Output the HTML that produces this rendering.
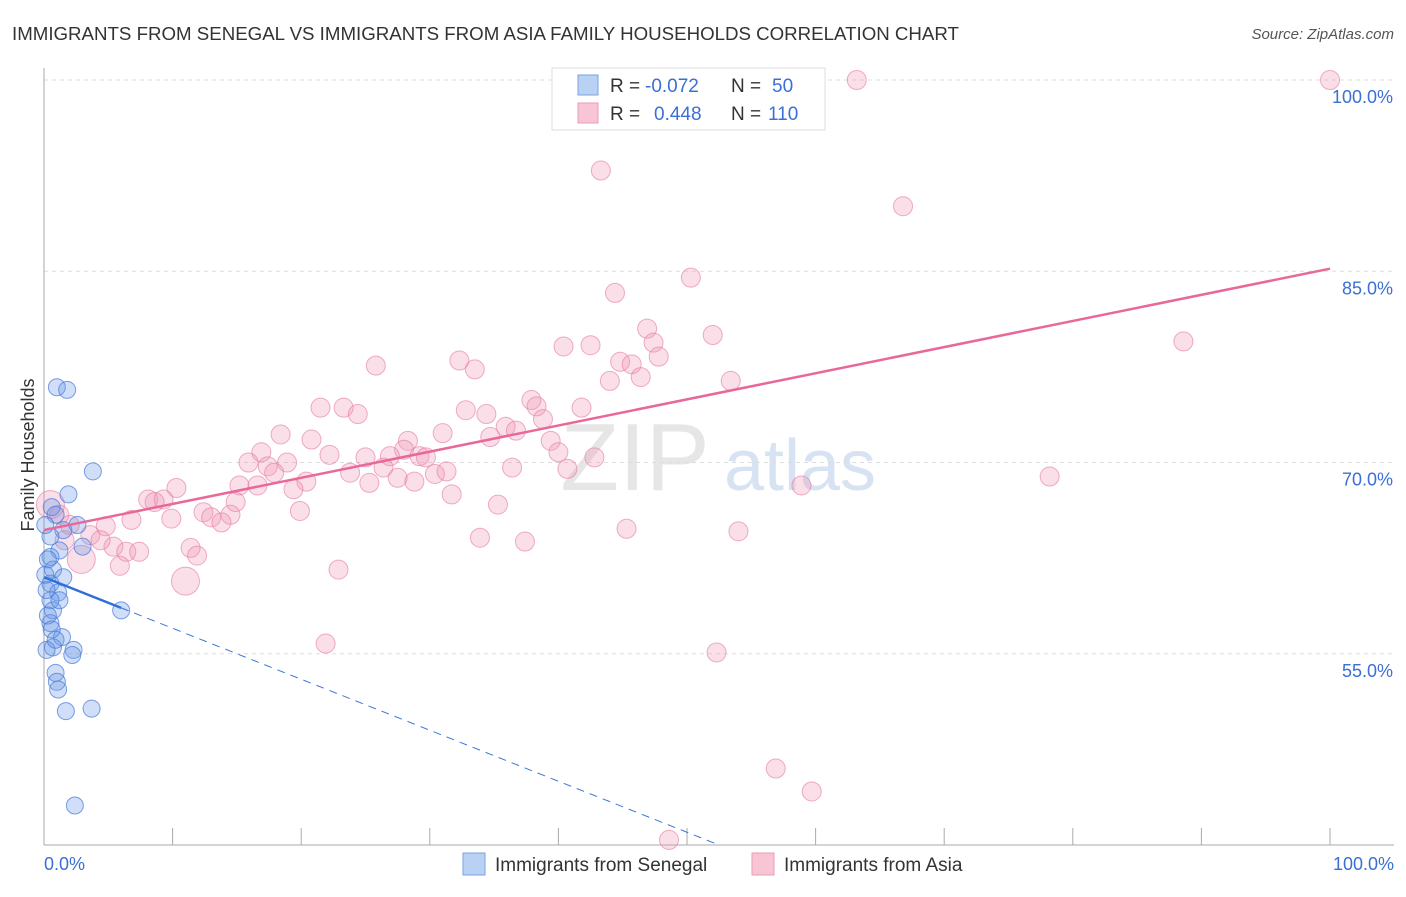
<!DOCTYPE html>
<html><head><meta charset="utf-8"><style>
body{margin:0;background:#fff;font-family:"Liberation Sans",sans-serif;}
svg text{font-family:"Liberation Sans",sans-serif;}
</style></head><body>
<svg id="chart" width="1406" height="892">
<text x="12" y="40" font-size="18.7" fill="#333">IMMIGRANTS FROM SENEGAL VS IMMIGRANTS FROM ASIA FAMILY HOUSEHOLDS CORRELATION CHART</text>
<text x="1394" y="39" font-size="15" fill="#555" font-style="italic" text-anchor="end">Source: ZipAtlas.com</text>
<text x="635" y="490" font-size="96" fill="#e6e6e6" font-family="Liberation Serif" text-anchor="middle">ZIP</text>
<text x="800" y="490" font-size="72" fill="#d7e3f3" text-anchor="middle">atlas</text>
<g id="grid"></g>
<g id="axes"></g>
<g id="marks"></g>
<text transform="translate(34,455) rotate(-90)" font-size="18" fill="#333" text-anchor="middle">Family Households</text>
<g>
<rect x="552" y="68" width="273" height="62" fill="#fff" stroke="#ddd"/>
<rect x="578" y="75" width="20" height="20" fill="#b9d1f3" stroke="#7aa3e0"/>
<rect x="578" y="103" width="20" height="20" fill="#f8c5d5" stroke="#eb9ab6"/>
<text x="610" y="92" font-size="19" fill="#333">R =</text><text x="645" y="92" font-size="19" fill="#3a6fd6">-0.072</text>
<text x="731" y="92" font-size="19" fill="#333">N =</text><text x="772" y="92" font-size="19" fill="#3a6fd6">50</text>
<text x="610" y="120" font-size="19" fill="#333">R =</text><text x="654" y="120" font-size="19" fill="#3a6fd6">0.448</text>
<text x="731" y="120" font-size="19" fill="#333">N =</text><text x="768" y="120" font-size="19" fill="#3a6fd6">110</text>
</g>
<g>
<rect x="463" y="853" width="22" height="22" fill="#b9d1f3" stroke="#7aa3e0"/>
<text x="495" y="871" font-size="19" fill="#333">Immigrants from Senegal</text>
<rect x="752" y="853" width="22" height="22" fill="#f8c5d5" stroke="#eb9ab6"/>
<text x="784" y="871" font-size="19" fill="#333">Immigrants from Asia</text>
</g>
</svg>
<script>
const yTicks=[55,70,85,100];
const xTickLabels=["0.0%","100.0%"];
const senegalX=[1.0,1.8,3.8,1.9,0.6,2.6,1.5,0.5,1.2,3.0,0.5,0.7,1.5,0.5,1.1,0.5,0.7,0.5,1.4,0.7,2.3,2.2,0.9,1.0,1.1,1.7,3.7,6.0,2.4,0.2,0.3,0.6,0.2,0.9,0.3,1.2,0.1,0.9,0.1];
const senegalY=[75.9,75.7,69.3,67.5,66.5,65.1,64.7,64.2,63.1,63.4,62.6,61.6,61.0,60.5,59.8,59.2,58.4,57.4,56.3,55.5,55.3,54.9,53.5,52.8,52.2,50.5,50.7,58.4,43.1,60.0,58.0,56.9,55.3,56.1,62.4,59.2,61.2,65.9,65.1];
const asiaX=[63.2,100,43.3,66.8,50.3,44.4,88.6,46.9,52.0,40.4,42.5,47.4,47.8,44.8,45.7,25.8,32.3,33.5,46.4,44.0,53.4,21.5,23.3,24.4,32.8,34.4,37.9,38.3,38.8,41.8,35.9,36.7,31.0,34.7,18.4,20.8,39.4,28.3,16.9,22.2,15.9,25.0,28.0,26.9,29.2,29.7,40.0,42.8,18.9,17.4,17.9,26.4,23.8,36.4,40.7,30.4,31.3,27.5,25.3,28.8,20.4,15.2,16.6,10.3,19.4,31.7,8.1,9.3,8.6,14.9,35.3,78.2,58.9,19.9,12.4,13.0,14.5,9.9,6.8,13.8,4.8,45.3,54.0,33.9,37.4,11.4,5.4,6.4,7.4,11.9,2.9,5.9,22.9,11.0,21.9,52.3,56.9,59.7,48.6,0.5,1.2,2.0,3.6,1.6,4.4];
const asiaY=[100,100,92.9,90.1,84.5,83.3,79.5,80.5,80.0,79.1,79.2,79.4,78.3,77.9,77.7,77.6,78.0,77.3,76.7,76.4,76.4,74.3,74.3,73.8,74.1,73.8,74.9,74.4,73.4,74.3,72.8,72.5,72.3,72.0,72.2,71.8,71.7,71.7,70.8,70.6,70.0,70.4,71.0,70.5,70.5,70.4,70.8,70.4,70.0,69.7,69.2,69.6,69.2,69.6,69.5,69.1,69.3,68.8,68.4,68.5,68.5,68.2,68.2,68.0,67.9,67.5,67.1,67.1,66.9,66.9,66.7,68.9,68.2,66.2,66.1,65.7,65.9,65.6,65.5,65.3,65.0,64.8,64.6,64.1,63.8,63.3,63.4,63.0,63.0,62.7,62.4,61.9,61.6,60.7,55.8,55.1,46.0,44.2,40.4,66.7,65.9,65.1,64.3,63.9,63.9];
const asiaTrend=[64.7,85.2];
const senegalTrend=[61.0,58.6];
const senegalTrendEnd=6.0;

const NS="http://www.w3.org/2000/svg";
const xs=v=>44+v*12.86;
const ys=v=>80+(100-v)*12.75;
function mk(tag,attrs,parent){const e=document.createElementNS(NS,tag);for(const k in attrs)e.setAttribute(k,attrs[k]);parent.appendChild(e);return e;}
const grid=document.getElementById('grid'),axes=document.getElementById('axes'),marks=document.getElementById('marks');
yTicks.forEach(t=>{
 const l=mk('line',{x1:44,x2:1394,y1:ys(t),y2:ys(t),stroke:'#ddd','stroke-dasharray':'4,4'},grid);
 
 
 const tx=mk('text',{x:1393,y:ys(t)+23,'font-size':18,fill:'#3a6fd6','text-anchor':'end'},axes);
 tx.textContent=t.toFixed(1)+'%';
 
 
});
mk('line',{x1:44,x2:44,y1:68,y2:845,stroke:'#aaa'},axes);
mk('line',{x1:44,x2:1394,y1:845,y2:845,stroke:'#aaa'},axes);
for(let i=0;i<=10;i++){mk('line',{x1:xs(i*10),x2:xs(i*10),y1:828,y2:845,stroke:'#aaa'},axes);}
const xl0=mk('text',{x:44,y:870,'font-size':18,fill:'#3a6fd6'},axes);xl0.textContent=xTickLabels[0];


const xl1=mk('text',{x:1394,y:870,'font-size':18,fill:'#3a6fd6','text-anchor':'end'},axes);xl1.textContent=xTickLabels[1];


asiaX.forEach((x,i)=>{
 const big=(i===90||i===93||i===99)?14:9.5;
 const c=mk('circle',{cx:xs(x),cy:ys(asiaY[i]),r:big,fill:'rgba(240,150,180,0.3)',stroke:'rgba(230,120,160,0.6)','stroke-width':1},marks);
 
 
});
senegalX.forEach((x,i)=>{
 const c=mk('circle',{cx:xs(x),cy:ys(senegalY[i]),r:8.5,fill:'rgba(100,150,230,0.3)',stroke:'rgba(70,120,220,0.7)','stroke-width':1},marks);
 
 
});
const slope=(senegalTrend[1]-senegalTrend[0])/senegalTrendEnd;
const xEnd=(40-senegalTrend[0])/slope;
const d=mk('line',{x1:xs(senegalTrendEnd),y1:ys(senegalTrend[1]),x2:xs(xEnd),y2:ys(40),stroke:'#3a78d8','stroke-width':1,'stroke-dasharray':'8,6'},marks);


const s=mk('line',{x1:xs(0),y1:ys(senegalTrend[0]),x2:xs(senegalTrendEnd),y2:ys(senegalTrend[1]),stroke:'#2f6fd8','stroke-width':2.5},marks);


const a=mk('line',{x1:xs(0),y1:ys(asiaTrend[0]),x2:xs(100),y2:ys(asiaTrend[1]),stroke:'#e8689a','stroke-width':2.5},marks);


</script>
</body></html>
